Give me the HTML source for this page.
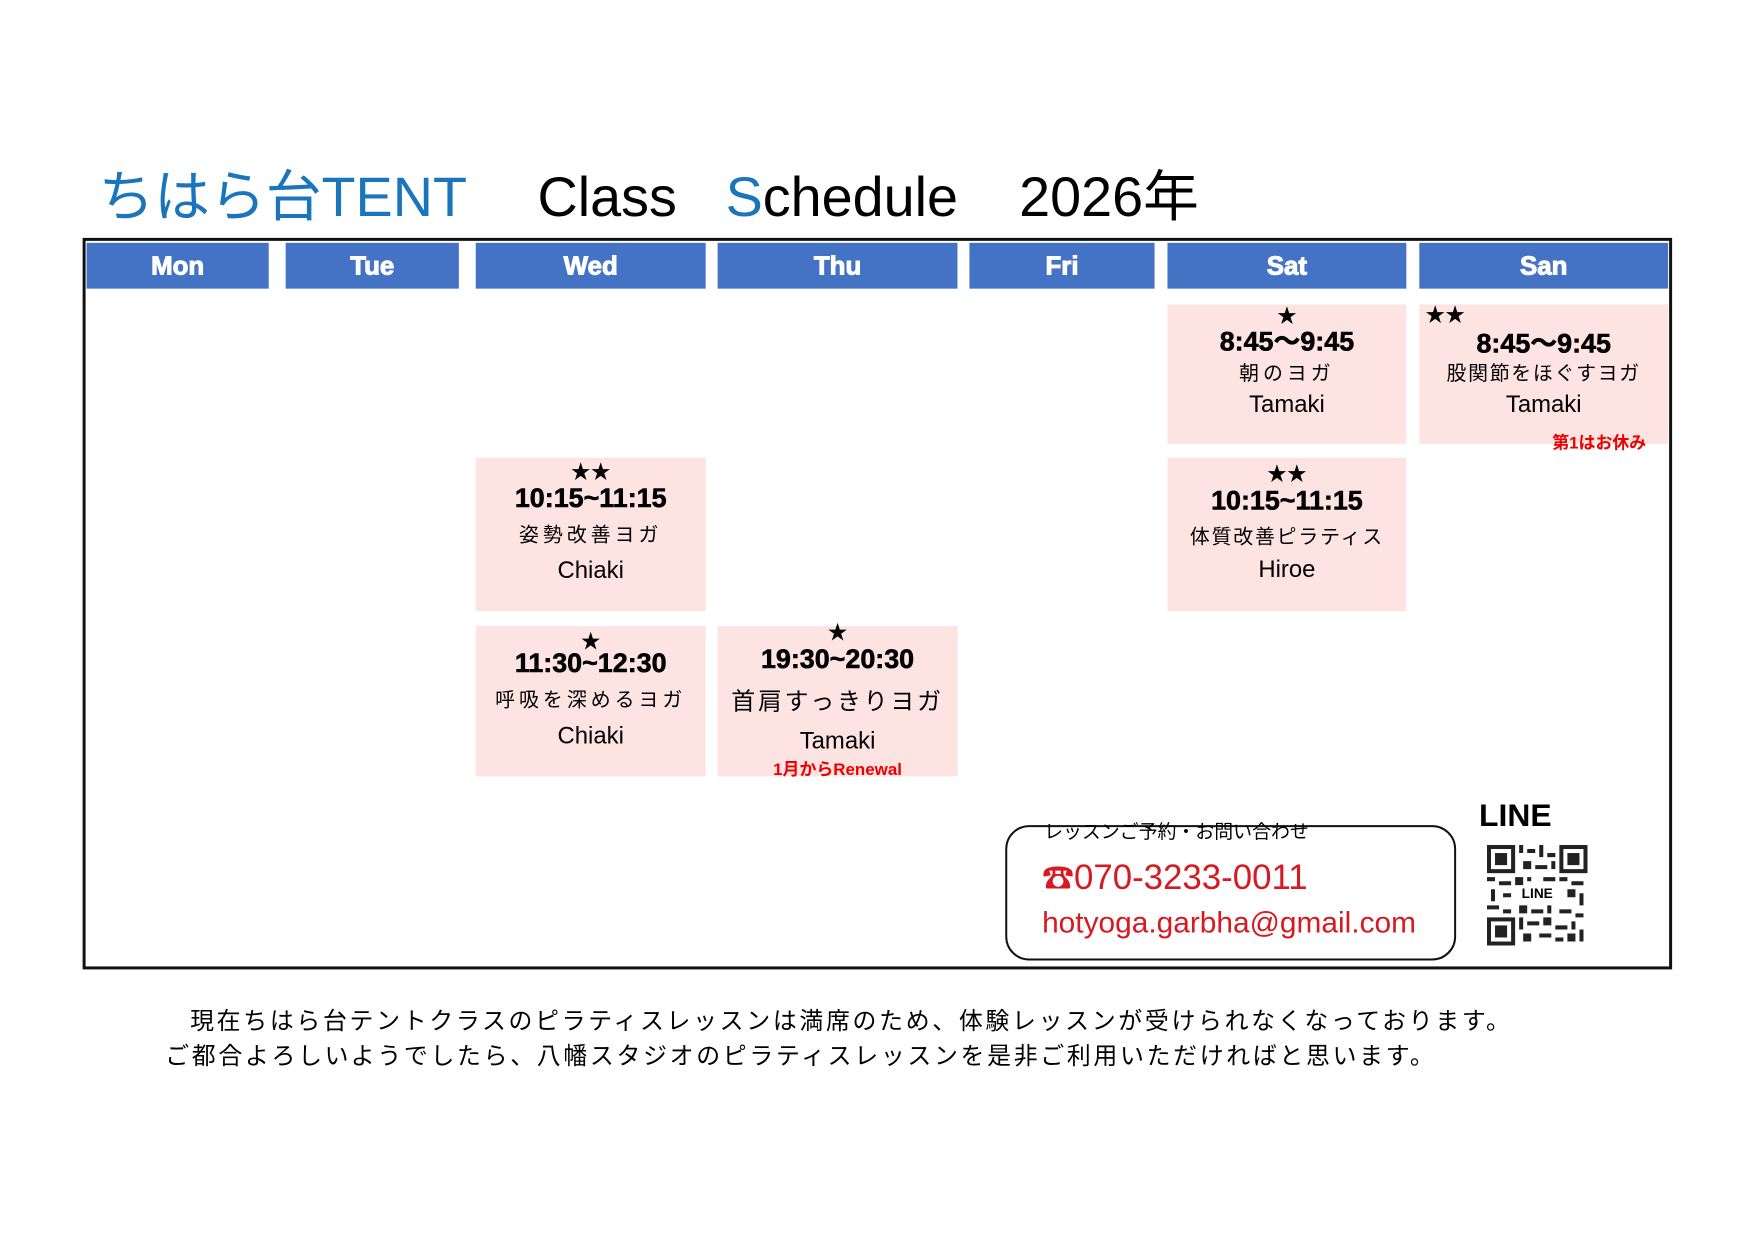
<!DOCTYPE html>
<html><head><meta charset="utf-8"><style>
*{margin:0;padding:0;box-sizing:border-box}
body{width:1755px;height:1241px;background:#fff;position:relative;overflow:hidden;font-family:"Liberation Sans","Noto Sans CJK JP",sans-serif;color:#000}
#w{position:absolute;left:0;top:0;width:1755px;height:1241px;transform:scale(0.9953);transform-origin:0 0}
.a{position:absolute;white-space:nowrap}
.t{font-size:56px;top:166px;line-height:64px}
.frame{position:absolute;left:83px;top:239px;width:1597px;height:735px;border:3px solid #111}
.hd{position:absolute;top:244px;height:46px;background:#4472c4;color:#fff;font-weight:bold;font-size:26px;text-align:center;line-height:46px;font-family:"Liberation Sans",sans-serif;-webkit-text-stroke:1px #fff}
.bx{position:absolute;background:#fde3e1}
.l{position:absolute;left:0;right:0;text-align:center;transform:translateY(-50%);white-space:nowrap;line-height:1.1}
.st{font-size:20px}
.tm{font-size:27px;font-weight:bold;-webkit-text-stroke:0.6px #000}
.jp{font-size:20px}
.nm{font-size:24px}
.red{color:#e00;font-weight:bold;font-size:17px}
</style></head><body><div id="w">
<div class="a t" style="left:99px;color:#1b75bc">ちはら台TENT</div>
<div class="a t" style="left:540px">Class</div>
<div class="a t" style="left:729px"><span style="color:#1b75bc">S</span>chedule</div>
<div class="a t" style="left:1024px">2026年</div>

<div class="frame"></div>
<div class="hd" style="left:87px;width:183px">Mon</div>
<div class="hd" style="left:287px;width:174px">Tue</div>
<div class="hd" style="left:478px;width:231px">Wed</div>
<div class="hd" style="left:721px;width:241px">Thu</div>
<div class="hd" style="left:974px;width:186px">Fri</div>
<div class="hd" style="left:1173px;width:240px">Sat</div>
<div class="hd" style="left:1426px;width:250px">San</div>

<div class="bx" style="left:1173px;top:306px;width:240px;height:140px">
<div class="l st" style="top:12px">★</div>
<div class="l tm" style="top:38px">8:45～9:45</div>
<div class="l jp" style="top:70px;letter-spacing:4px">朝のヨガ</div>
<div class="l nm" style="top:101px">Tamaki</div>
</div>
<div class="bx" style="left:1426px;top:306px;width:250px;height:140px">
<div class="l st" style="top:11px;left:6px;text-align:left">★★</div>
<div class="l tm" style="top:40px">8:45～9:45</div>
<div class="l jp" style="top:70px;letter-spacing:1.7px">股関節をほぐすヨガ</div>
<div class="l nm" style="top:101px">Tamaki</div>
<div class="l red" style="top:140px;left:auto;right:22px">第1はお休み</div>
</div>
<div class="bx" style="left:478px;top:460px;width:231px;height:154px">
<div class="l st" style="top:15px">★★</div>
<div class="l tm" style="top:41px">10:15~11:15</div>
<div class="l jp" style="top:78px;letter-spacing:4px">姿勢改善ヨガ</div>
<div class="l nm" style="top:114px">Chiaki</div>
</div>
<div class="bx" style="left:1173px;top:460px;width:240px;height:154px">
<div class="l st" style="top:17px">★★</div>
<div class="l tm" style="top:44px">10:15~11:15</div>
<div class="l jp" style="top:80px;letter-spacing:1.8px">体質改善ピラティス</div>
<div class="l nm" style="top:113px">Hiroe</div>
</div>
<div class="bx" style="left:478px;top:629px;width:231px;height:151px">
<div class="l st" style="top:16px">★</div>
<div class="l tm" style="top:38px">11:30~12:30</div>
<div class="l jp" style="top:75px;letter-spacing:4px">呼吸を深めるヨガ</div>
<div class="l nm" style="top:111px">Chiaki</div>
</div>
<div class="bx" style="left:721px;top:629px;width:241px;height:151px">
<div class="l st" style="top:7px">★</div>
<div class="l tm" style="top:34px">19:30~20:30</div>
<div class="l" style="top:77px;font-size:24px;letter-spacing:2.8px">首肩すっきりヨガ</div>
<div class="l nm" style="top:116px">Tamaki</div>
<div class="l red" style="top:145px">1月からRenewal</div>
</div>

<div class="a" style="left:1010px;top:829px;width:453px;height:136px;border:2px solid #111;border-radius:24px"></div>
<div class="a" style="left:1049px;top:826px;font-size:19px;line-height:22px">レッスンご予約・お問い合わせ</div>
<div class="a" style="left:1047px;top:862px;font-size:35px;line-height:40px;color:#d71920"><span style="font-size:32px">☎</span>070-3233-0011</div>
<div class="a" style="left:1047px;top:910px;font-size:30px;line-height:36px;color:#d71920">hotyoga.garbha@gmail.com</div>
<div class="a" style="left:1486px;top:801px;font-size:32px;font-weight:bold;line-height:36px">LINE</div>
<svg class="a" style="left:1494px;top:849px" width="101" height="101" viewBox="0 0 25 25">
<g fill="#222">
<rect x="0" y="0" width="7" height="7"/><rect x="18" y="0" width="7" height="7"/><rect x="0" y="18" width="7" height="7"/>
</g>
<g fill="#fff"><rect x="1" y="1" width="5" height="5"/><rect x="19" y="1" width="5" height="5"/><rect x="1" y="19" width="5" height="5"/></g>
<g fill="#222"><rect x="2" y="2" width="3" height="3"/><rect x="20" y="2" width="3" height="3"/><rect x="2" y="20" width="3" height="3"/>
<path d="M8 0h1v2h-1zM10 1h2v1h-2zM13 0h1v3h-1zM15 2h2v1h-2zM9 4h2v2h-2zM12 5h3v1h-3zM16 4h1v2h-1zM0 8h2v1h-2zM3 9h3v1h-3zM7 8h2v2h-2zM10 8h1v1h-1zM14 8h3v1h-3zM18 8h2v1h-2zM21 9h3v1h-3zM1 11h1v3h-1zM4 12h2v1h-2zM20 11h2v2h-2zM23 12h1v3h-1zM0 15h3v1h-3zM4 16h2v1h-2zM8 15h2v2h-2zM11 16h3v1h-3zM15 15h1v2h-1zM18 16h3v1h-3zM22 17h2v1h-2zM8 18h1v3h-1zM10 19h3v1h-3zM14 18h2v2h-2zM17 20h3v1h-3zM21 19h1v2h-1zM9 22h2v2h-2zM13 22h3v1h-3zM17 23h2v1h-2zM20 22h2v2h-2zM23 21h1v3h-1z"/></g>
<rect x="7" y="10" width="11" height="4" fill="#fff"/>
<text x="12.5" y="13.2" font-size="3.4" font-weight="bold" text-anchor="middle" font-family="Liberation Sans,sans-serif">LINE</text>
</svg>

<div class="a" style="left:191px;top:1012px;font-size:24px;letter-spacing:2.7px;line-height:30px">現在ちはら台テントクラスのピラティスレッスンは満席のため、体験レッスンが受けられなくなっております。</div>
<div class="a" style="left:166px;top:1047px;font-size:24px;letter-spacing:2.7px;line-height:30px">ご都合よろしいようでしたら、八幡スタジオのピラティスレッスンを是非ご利用いただければと思います。</div>
</div></body></html>
